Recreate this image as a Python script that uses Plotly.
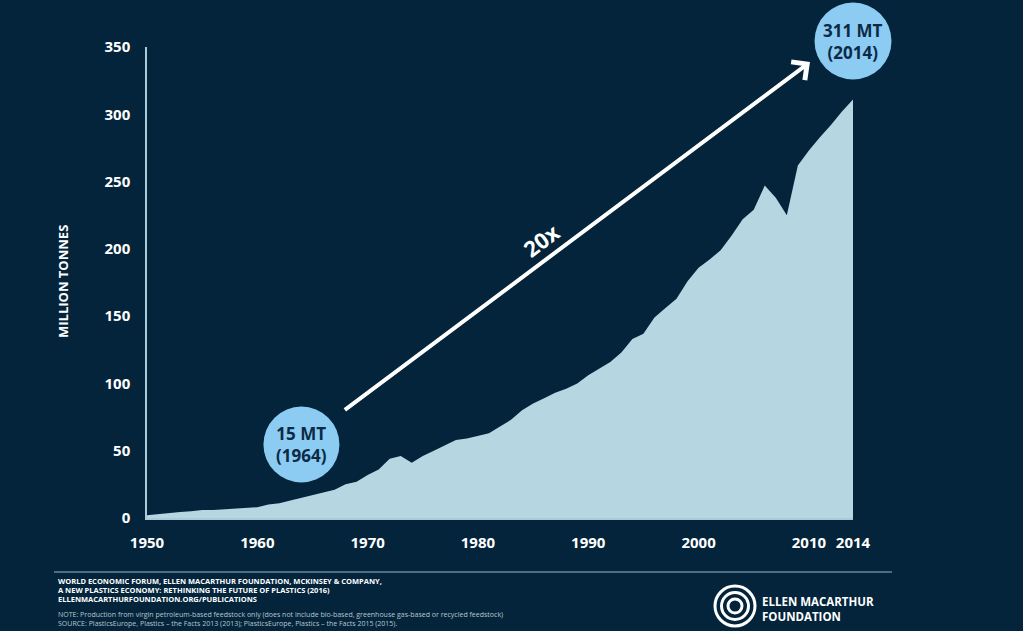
import plotly.graph_objects as go

# ---------------- data ----------------
years = list(range(1950, 2015))
production_mt = [
    2, 3, 4, 4.5, 5, 6, 6, 6.5, 6.5, 7,            # 1950-1959
    8, 10, 11, 13, 15, 16.5, 19, 21, 25, 27,        # 1960-1969
    32, 36, 44, 46, 41, 46, 50, 54, 58, 59,         # 1970-1979
    61, 63, 68, 73, 80, 85, 89, 93, 96, 100,        # 1980-1989
    106, 111, 116, 123, 133, 137, 149, 156, 163, 176,  # 1990-1999
    186, 192, 199, 210, 222, 229, 247, 238, 225, 262,  # 2000-2009
    273, 283, 292, 302, 311,                         # 2010-2014
]
x_tick_years = [1950, 1960, 1970, 1980, 1990, 2000, 2010, 2014]
x_tick_labels = ["1950", "1960", "1970", "1980", "1990", "2000", "2010", "2014"]
y_tick_values = [0, 50, 100, 150, 200, 250, 300, 350]
start_label = ("15 MT", "(1964)")
end_label = ("311 MT", "(2014)")
growth_label = "20x"

# ---------------- style ----------------
BG = "#03243a"
AREA = "#b6d6e2"
CIRCLE = "#8ccbf2"
NAVY = "#0b2a45"
FONT = "Open Sans"
W, H = 1023, 631
ML, MR, MT, MB = 147, 170, 47, 113
PW, PH = W - ML - MR, H - MT - MB
X0, X1 = years[0], years[-1]
Y0, Y1 = 0, 350


def px(x, y):
    """pixel -> paper coords"""
    return (x - ML) / PW, (H - MB - y) / PH


fig = go.Figure()
fig.add_trace(go.Scatter(
    x=years, y=production_mt, mode="lines", fill="tozeroy",
    line=dict(width=0, color=AREA), fillcolor=AREA, hoverinfo="skip",
))

shapes = []
annotations = []


def circle(xp, yp, r, fill, line_color=None, lw=0):
    shapes.append(dict(
        type="circle", xref="paper", yref="paper",
        xsizemode="pixel", ysizemode="pixel",
        xanchor=xp, yanchor=yp, x0=-r, x1=r, y0=-r, y1=r,
        fillcolor=fill, line=dict(width=lw, color=line_color or fill),
        layer="above",
    ))


def label(xp, yp, text, size, color, xanchor="center", yanchor="middle", **kw):
    annotations.append(dict(
        xref="paper", yref="paper", x=xp, y=yp, showarrow=False,
        xanchor=xanchor, yanchor=yanchor, text=text,
        font=dict(family=FONT, size=size, color=color), **kw,
    ))


# start / end bubbles
sx = (1964 - X0) / (X1 - X0)
sy = px(0, 444.5)[1]
circle(sx, sy, 38, CIRCLE)
label(sx, sy, f"<b>{start_label[0]}</b><br><b>{start_label[1]}</b>", 17, NAVY, align="center")

ex = (2014 - X0) / (X1 - X0)
ey = px(0, 41)[1]
circle(ex, ey, 38.5, CIRCLE)
label(ex, ey, f"<b>{end_label[0]}</b><br><b>{end_label[1]}</b>", 17, NAVY, align="center")

# growth arrow
annotations.append(dict(
    x=2010.1, y=338.8, ax=1967.8, ay=79.5,
    xref="x", yref="y", axref="x", ayref="y",
    text="", showarrow=True, arrowhead=4, arrowsize=1.1, arrowwidth=4,
    arrowcolor="white", standoff=0, startstandoff=0,
))
annotations.append(dict(
    x=1985.7, y=206.5, xref="x", yref="y", showarrow=False,
    xanchor="center", yanchor="middle",
    text=f"<b>{growth_label}</b>", textangle=-37,
    font=dict(family=FONT, size=22, color="white"),
))

# y-axis title
tx, ty = px(63, 282)
label(tx, ty, "<b>MILLION TONNES</b>", 13, "white", textangle=-90)

# footer divider
lx0, ly = px(54, 572)
lx1, _ = px(892, 572)
shapes.append(dict(type="line", xref="paper", yref="paper",
                   x0=lx0, x1=lx1, y0=ly, y1=ly,
                   line=dict(color="#4d6d82", width=2)))

footer_bold = [
    "WORLD ECONOMIC FORUM, ELLEN MACARTHUR FOUNDATION, MCKINSEY &amp; COMPANY,",
    "A NEW PLASTICS ECONOMY: RETHINKING THE FUTURE OF PLASTICS (2016)",
    "ELLENMACARTHURFOUNDATION.ORG/PUBLICATIONS",
]
for i, line in enumerate(footer_bold):
    fx, fy = px(56, 580.5 + 9 * i)
    label(fx, fy, f"<b>{line}</b>", 7.5, "white", xanchor="left")

footer_notes = [
    "NOTE: Production from virgin petroleum-based feedstock only (does not include bio-based, greenhouse gas-based or recycled feedstock)",
    "SOURCE: PlasticsEurope, Plastics – the Facts 2013 (2013); PlasticsEurope, Plastics – the Facts 2015 (2015).",
]
for i, line in enumerate(footer_notes):
    fx, fy = px(56, 614.5 + 8.5 * i)
    label(fx, fy, line, 7, "#b9c6cf", xanchor="left")

# logo
gx, gy = px(735, 606)
for r in (20, 13.5, 7):
    circle(gx, gy, r, "rgba(0,0,0,0)", "white", 3)
fx, fy = px(760, 608.5)
label(fx, fy, "<b>ELLEN MACARTHUR</b><br><b>FOUNDATION</b>", 11.5, "white",
      xanchor="left", align="left")

fig.update_layout(
    width=W, height=H,
    margin=dict(l=ML, r=MR, t=MT, b=MB, pad=0),
    paper_bgcolor=BG, plot_bgcolor=BG,
    showlegend=False,
    shapes=shapes, annotations=annotations,
    xaxis=dict(
        range=[X0, X1], tickvals=x_tick_years, ticktext=x_tick_labels,
        showgrid=False, zeroline=False, showline=True, linecolor="#a9cbd9", linewidth=1.5,
        ticks="", ticklabelstandoff=10,
        tickfont=dict(family=FONT, size=15, color="white", weight="bold"),
        fixedrange=True,
    ),
    yaxis=dict(
        range=[Y0, Y1], tickvals=y_tick_values,
        showgrid=False, zeroline=False, showline=True, linecolor="#a9cbd9", linewidth=1.5,
        ticks="", ticklabelstandoff=12,
        tickfont=dict(family=FONT, size=15, color="white", weight="bold"),
        fixedrange=True,
    ),
)

fig.write_html(
    "out.html",
    config={"displayModeBar": False},
    post_script="document.body.style.margin='0px';document.body.style.background='%s';" % BG,
)
